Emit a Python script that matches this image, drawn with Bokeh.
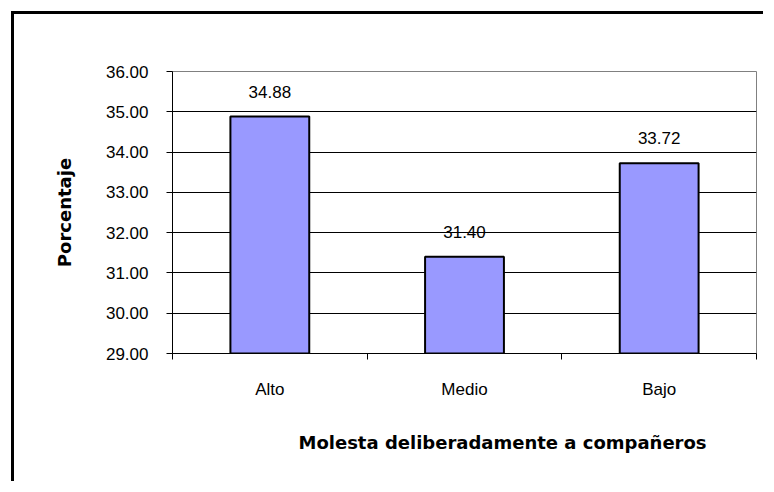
from bokeh.plotting import figure
from bokeh.models import ColumnDataSource, FixedTicker, Range1d, PrintfTickFormatter, Title
from bokeh.embed import file_html
from bokeh.resources import INLINE
from bokeh.core.properties import value

categories = ["Alto", "Medio", "Bajo"]
values = [34.88, 31.40, 33.72]
value_labels = ["34.88", "31.40", "33.72"]
y_ticks = [29, 30, 31, 32, 33, 34, 35, 36]
x_title = "Molesta deliberadamente  a compañeros"
y_title = "Porcentaje"

xs = [i + 0.5 for i in range(len(categories))]
src = ColumnDataSource(dict(x=xs, top=values, lab=value_labels))

p = figure(width=752, height=470, output_backend="svg", toolbar_location=None,
           x_range=Range1d(0, len(categories)), y_range=Range1d(29, 36),
           min_border_left=158, min_border_top=57, min_border_right=10, min_border_bottom=131,
           styles={"border-left": "3px solid black", "border-top": "3px solid black",
                   "margin-left": "11px", "margin-top": "11px"})
p.background_fill_color = "white"
p.border_fill_color = "white"
p.outline_line_color = "#808080"
p.outline_line_width = 1

p.vbar(x="x", top="top", bottom=29, width=0.405, source=src,
       fill_color="#9999FF", line_color="black", line_width=2)

p.text(x="x", y="top", text="lab", source=src, text_align="center",
       text_baseline="alphabetic", y_offset=-25,
       text_font=value("Liberation Sans"), text_font_size="17px", text_color="black")

# y axis
p.yaxis.ticker = FixedTicker(ticks=y_ticks)
p.yaxis.formatter = PrintfTickFormatter(format="%.2f")
p.yaxis.major_tick_out = 6
p.yaxis.major_tick_in = 0
p.yaxis.minor_tick_line_color = None
p.yaxis.axis_line_color = "black"
p.yaxis.axis_line_width = 1
p.yaxis.major_label_standoff = 18
p.yaxis.major_label_text_font = "Liberation Sans"
p.yaxis.major_label_text_font_size = "17px"
p.yaxis.major_label_text_color = "black"
p.yaxis.axis_label = y_title
p.yaxis.axis_label_text_font = "DejaVu Sans"
p.yaxis.axis_label_text_font_style = "bold"
p.yaxis.axis_label_text_font_size = "18px"
p.yaxis.axis_label_text_color = "black"
p.yaxis.axis_label_standoff = 28

# x axis
p.xaxis.ticker = FixedTicker(ticks=xs, minor_ticks=list(range(len(categories) + 1)))
p.xaxis.major_label_overrides = {x: c for x, c in zip(xs, categories)}
p.xaxis.major_tick_out = 0
p.xaxis.major_tick_in = 0
p.xaxis.minor_tick_out = 6
p.xaxis.minor_tick_in = 0
p.xaxis.minor_tick_line_color = "black"
p.xaxis.axis_line_color = "black"
p.xaxis.major_label_standoff = 20
p.xaxis.major_label_text_font = "Liberation Sans"
p.xaxis.major_label_text_font_size = "17px"
p.xaxis.major_label_text_color = "black"

p.add_layout(Title(text=x_title, align="left", offset=126,
                   text_font="DejaVu Sans", text_font_style="bold", text_font_size="18px",
                   text_color="black", standoff=57), "below")

p.xgrid.visible = False
p.ygrid.ticker = FixedTicker(ticks=[30, 31, 32, 33, 34, 35])
p.ygrid.grid_line_color = "black"
p.ygrid.grid_line_width = 1

open("out.html", "w").write(file_html(p, INLINE))
